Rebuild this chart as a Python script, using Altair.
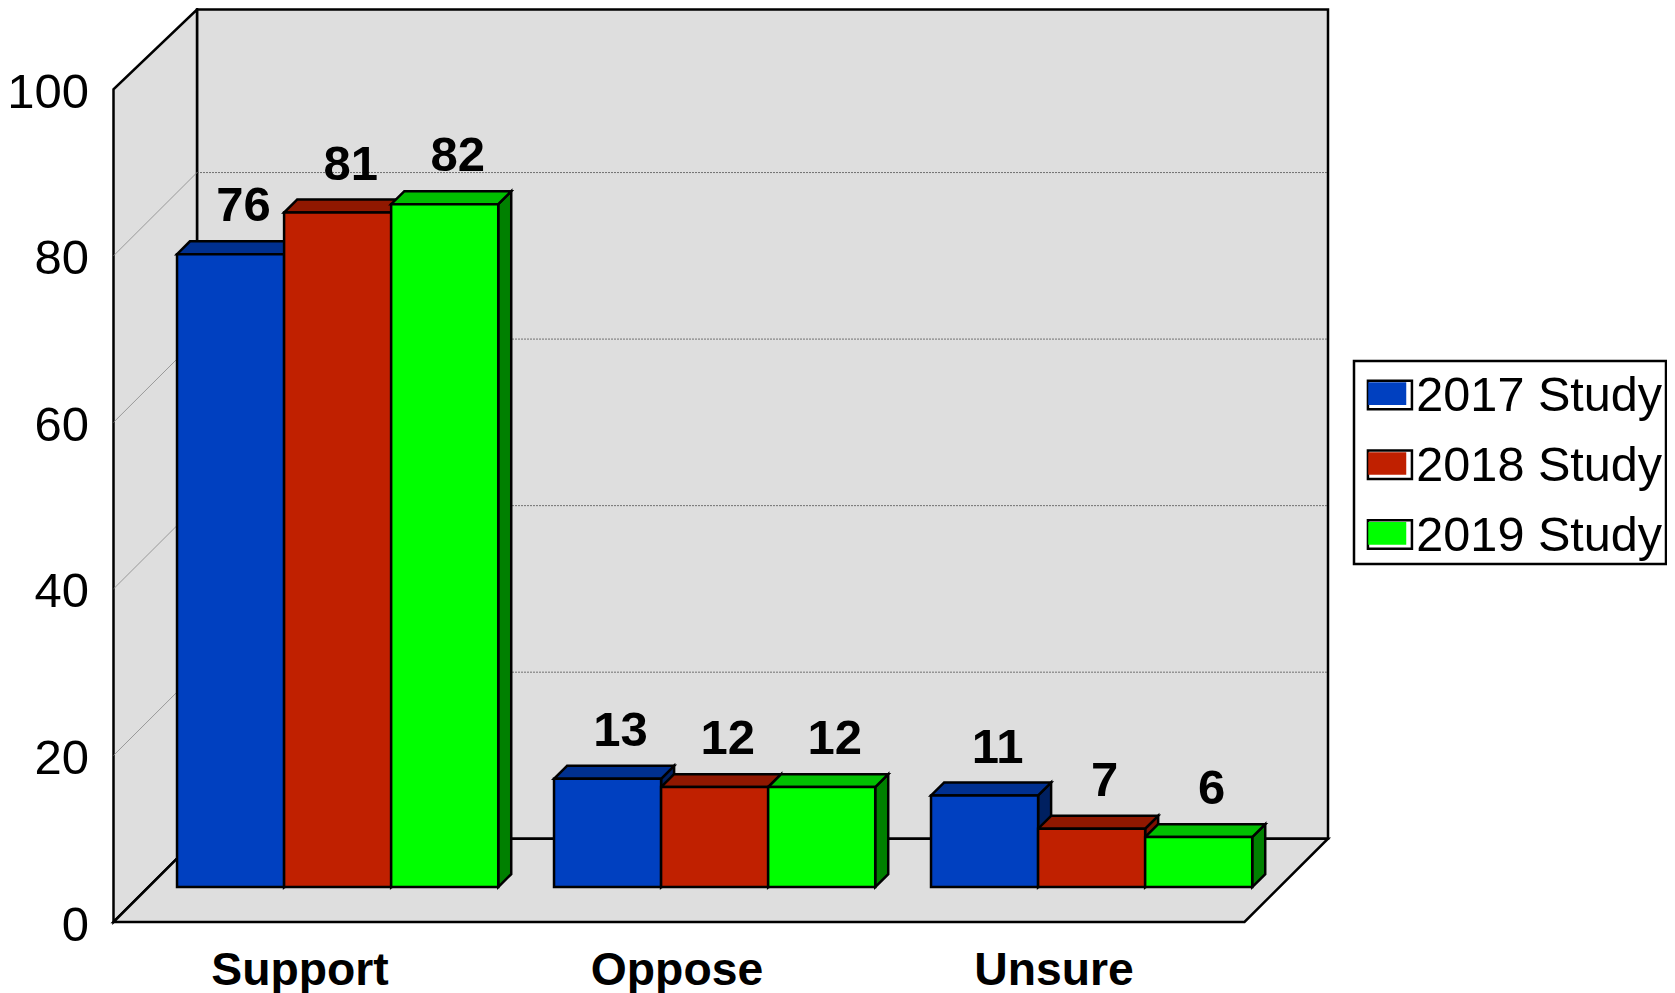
import altair as alt
import pandas as pd

categories = ["Support", "Oppose", "Unsure"]
series = ["2017 Study", "2018 Study", "2019 Study"]
values_2017 = [76, 13, 11]
values_2018 = [81, 12, 7]
values_2019 = [82, 12, 6]
y_ticks = [0, 20, 40, 60, 80, 100]
front_colors = ["#0040C0", "#C02000", "#00FF00"]
top_colors = ["#003090", "#901800", "#00C000"]
side_colors = ["#002060", "#801000", "#008000"]

# Projection of the box, in scale units
WALL_X, WALL_Y = 0.2215, 10.0
BASE_X, BASE_Y = 0.0945, 4.2
BAR_X, BAR_Y = 0.0345, 1.55
BAR_W, GAP = 0.284, 0.074
X_MAX, Y_MAX, Y_TOP = 3 + WALL_X, 109.58, 100

fronts, sides, tops = [], [], []
for s, vals in zip(series, [values_2017, values_2018, values_2019]):
    j = series.index(s)
    for i, (c, v) in enumerate(zip(categories, vals)):
        x0 = i + GAP + BASE_X + j * BAR_W
        x1 = x0 + BAR_W
        b, t = BASE_Y, BASE_Y + v
        bar = f"{c}-{s}"
        fronts.append(dict(series=s, study=s, x=x0, x2=x1, y=b, y2=t, cx=(x0 + x1) / 2 + BAR_X, ty=t + BAR_Y, v=v))
        sides += [dict(bar=bar, series=s, x=x1, y=b, y2=t), dict(bar=bar, series=s, x=x1 + BAR_X, y=b + BAR_Y, y2=t + BAR_Y)]
        tops += [dict(bar=bar, series=s, y=t, x=x0, x2=x1), dict(bar=bar, series=s, y=t + BAR_Y, x=x0 + BAR_X, x2=x1 + BAR_X)]
fronts, sides, tops = map(pd.DataFrame, (fronts, sides, tops))

x_scale = alt.Scale(domain=[0, X_MAX], nice=False, zero=False)
y_scale = alt.Scale(domain=[0, Y_MAX], nice=False, zero=False)
x_axis = alt.Axis(
    values=[0.5, 1.5, 2.5], labelExpr="['Support','Oppose','Unsure'][floor(datum.value)]",
    title=None, domain=False, ticks=False, grid=False, labelFont="Liberation Sans", labelFontWeight="bold",
    labelFontSize=46.3, labelColor="black", labelPadding=25, labelOffset=-2.5, labelOverlap=False, labelFlush=False)
y_axis = alt.Axis(
    values=y_ticks, title=None, domain=False, ticks=False, grid=False, labelFont="Liberation Sans",
    labelFontSize=49, labelColor="black", labelPadding=25, labelOffset=3, labelOverlap=False, labelFlush=False)
X = alt.X("x:Q", scale=x_scale, axis=x_axis)
Y = alt.Y("y:Q", scale=y_scale, axis=y_axis)
OUT = dict(stroke="black", strokeWidth=2.5, strokeJoin="miter")
WALL = "#DEDEDE"

# Room
back = alt.Chart(pd.DataFrame([dict(x=WALL_X, x2=X_MAX, y=WALL_Y, y2=Y_MAX)])).mark_rect(fill=WALL, **OUT).encode(x=X, x2="x2:Q", y=Y, y2="y2:Q")
left = alt.Chart(pd.DataFrame([dict(x=0, y=0, y2=Y_TOP), dict(x=WALL_X, y=WALL_Y, y2=Y_MAX)])).mark_area(fill=WALL, orient="vertical", **OUT).encode(x=X, y=Y, y2="y2:Q")
floor_ = alt.Chart(pd.DataFrame([dict(y=0, x=0, x2=3), dict(y=WALL_Y, x=WALL_X, x2=X_MAX)])).mark_area(fill=WALL, orient="horizontal", **OUT).encode(x=X, x2="x2:Q", y=Y)

grid_vals = y_ticks[1:-1]
grid_back = alt.Chart(pd.DataFrame([dict(x=WALL_X, x2=X_MAX, y=v + WALL_Y) for v in grid_vals])).mark_rule(
    stroke="#555555", strokeWidth=0.8, strokeDash=[2, 1]).encode(x=X, x2="x2:Q", y=Y)
grid_left = alt.Chart(pd.DataFrame([r for v in grid_vals for r in (dict(v=v, x=0, y=v), dict(v=v, x=WALL_X, y=v + WALL_Y))])).mark_line(
    stroke="#888888", strokeWidth=0.8).encode(x=X, y=Y, detail="v:N")

fs = lambda rng, legend=None: alt.Fill("series:N", scale=alt.Scale(domain=series, range=rng), legend=legend)
side_l = alt.Chart(sides).mark_area(orient="vertical", **OUT).encode(x=X, y=Y, y2="y2:Q", detail="bar:N", fill=fs(side_colors))
top_l = alt.Chart(tops).mark_area(orient="horizontal", **OUT).encode(x=X, x2="x2:Q", y=Y, detail="bar:N", fill=fs(top_colors))

# Legend: a white swatch with a black edge and the labels, under a slightly smaller coloured swatch
legend_box = alt.Legend(
    title=None, orient="none", legendX=1240.5, legendY=351.5, fillColor="white", strokeColor="black",
    padding=3, symbolType="M-0.685,-0.5H0.746V0.43H-0.685Z", symbolSize=3782, symbolStrokeColor="black", symbolStrokeWidth=2.5,
    symbolFillColor="white", labelFont="Liberation Sans", labelFontSize=48.6, labelColor="black", labelOffset={"expr": "-4.7"}, rowPadding=12.8, labelLimit=400)
legend_fill = alt.Legend(
    title=None, orient="none", legendX=1244.8, legendY=354.75, padding=0, symbolType="M-0.685,-0.423H0.551V0.315H-0.685Z", symbolSize=3782,
    symbolStrokeWidth=0, labelExpr="''", labelFontSize=1, labelOffset=0, rowPadding=28.9, zindex=1)
front_l = alt.Chart(fronts).mark_rect(strokeWidth=2.5, strokeJoin="miter").encode(
    x=X, x2="x2:Q", y=Y, y2="y2:Q", fill=fs(front_colors, legend_fill),
    stroke=alt.Stroke("study:N", scale=alt.Scale(range=["black", "black", "black"]), legend=legend_box))
labels = alt.Chart(fronts).mark_text(font="Liberation Sans", fontWeight="bold", fontSize=49, color="black", baseline="alphabetic", dy=-20).encode(
    x=alt.X("cx:Q", scale=x_scale, axis=x_axis), y=alt.Y("ty:Q", scale=y_scale, axis=y_axis), text="v:Q")

chart = alt.layer(back, left, floor_, grid_back, grid_left, side_l, top_l, front_l, labels).resolve_scale(fill="independent").resolve_legend(
    fill="independent", stroke="independent").properties(
    width=1214.5, height=912.5, autosize=alt.AutoSizeParams(type="none"),
    padding={"left": 105.5, "top": 1.5, "right": 339, "bottom": 71}, background="white"
).configure_view(stroke=None).configure_legend(strokeWidth=2.5)
chart.save("out.html", embed_options={"renderer": "svg", "actions": False})
